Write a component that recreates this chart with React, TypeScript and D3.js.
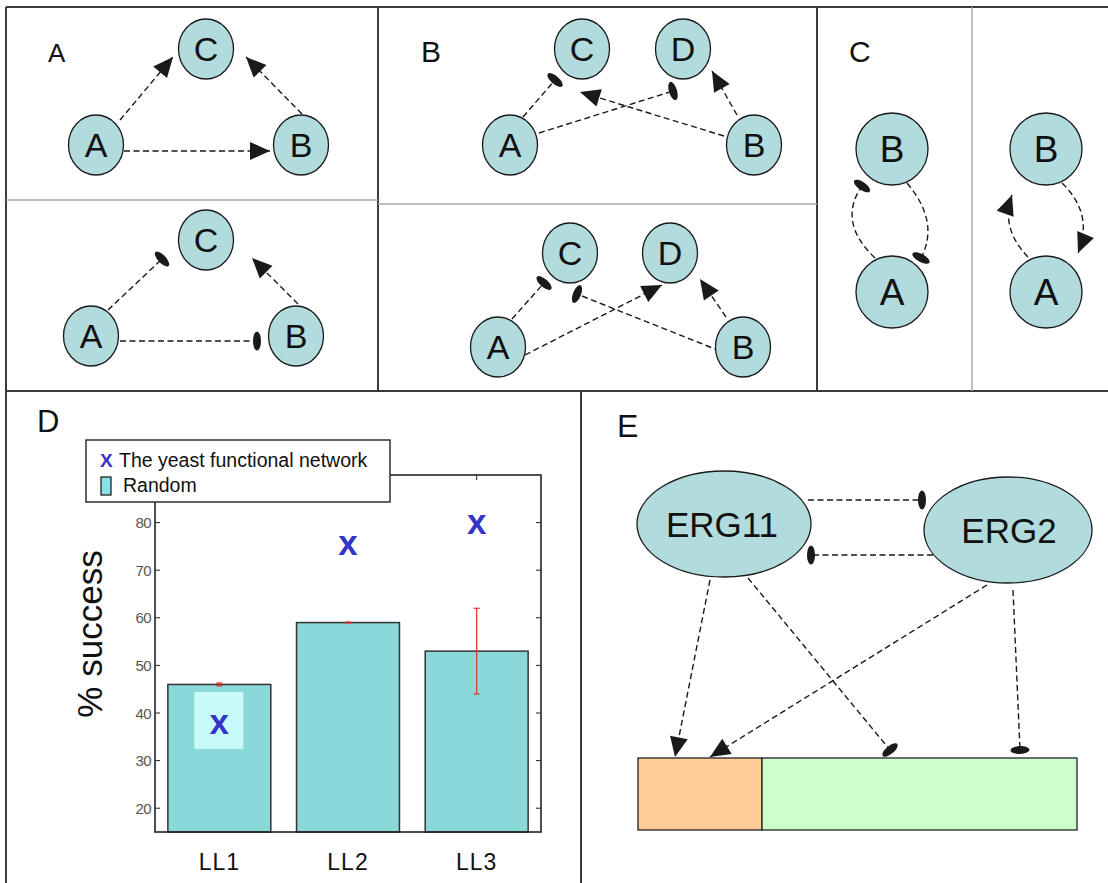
import React from 'react';
import * as d3 from 'd3';

// ---------- Panel D data ----------
const categories = ['LL1', 'LL2', 'LL3'];
const randomValues = [46, 59, 53];
const randomErrors = [0.3, 0.1, 9];
const yeastValues = [37.5, 75, 79.5];
const yTicks = [20, 30, 40, 50, 60, 70, 80];
const yDomain: [number, number] = [15, 90];
const legendLabels = ['The yeast functional network', 'Random'];

// ---------- Network data ----------
type N = { id: string; cx: number; cy: number; rx: number; ry: number };
type E = { x1: number; y1: number; x2: number; y2: number; kind: 'act' | 'rep'; cpx?: number; cpy?: number };

const aTopNodes: N[] = [
  { id: 'C', cx: 206, cy: 49, rx: 27.5, ry: 30 },
  { id: 'A', cx: 96, cy: 145, rx: 27.5, ry: 30 },
  { id: 'B', cx: 301, cy: 145, rx: 27.5, ry: 30 },
];
const aTopEdges: E[] = [
  { x1: 120, y1: 120, x2: 173, y2: 57, kind: 'act' },
  { x1: 124, y1: 151, x2: 270, y2: 151, kind: 'act' },
  { x1: 302, y1: 114, x2: 246, y2: 57, kind: 'act' },
];
const aBotNodes: N[] = [
  { id: 'C', cx: 206, cy: 240, rx: 27.5, ry: 30 },
  { id: 'A', cx: 91, cy: 336, rx: 27.5, ry: 30 },
  { id: 'B', cx: 296, cy: 336, rx: 27.5, ry: 30 },
];
const aBotEdges: E[] = [
  { x1: 108, y1: 310, x2: 162, y2: 259, kind: 'rep' },
  { x1: 120, y1: 341, x2: 257, y2: 341, kind: 'rep' },
  { x1: 298, y1: 304, x2: 252, y2: 258, kind: 'act' },
];
const bTopNodes: N[] = [
  { id: 'C', cx: 582, cy: 49, rx: 27.5, ry: 30 },
  { id: 'D', cx: 683, cy: 49, rx: 27.5, ry: 30 },
  { id: 'A', cx: 510, cy: 145, rx: 27.5, ry: 30 },
  { id: 'B', cx: 754, cy: 145, rx: 27.5, ry: 30 },
];
const bTopEdges: E[] = [
  { x1: 523, y1: 117, x2: 555, y2: 80, kind: 'rep' },
  { x1: 539, y1: 133, x2: 673, y2: 91, kind: 'rep' },
  { x1: 724, y1: 136, x2: 580, y2: 92, kind: 'act' },
  { x1: 737, y1: 115, x2: 712, y2: 71, kind: 'act' },
];
const bBotNodes: N[] = [
  { id: 'C', cx: 570, cy: 253, rx: 27.5, ry: 30 },
  { id: 'D', cx: 670, cy: 253, rx: 27.5, ry: 30 },
  { id: 'A', cx: 498, cy: 347, rx: 27.5, ry: 30 },
  { id: 'B', cx: 743, cy: 347, rx: 27.5, ry: 30 },
];
const bBotEdges: E[] = [
  { x1: 512, y1: 319, x2: 544, y2: 283, kind: 'rep' },
  { x1: 525, y1: 355, x2: 662, y2: 285, kind: 'act' },
  { x1: 720, y1: 351, x2: 577, y2: 294, kind: 'rep' },
  { x1: 726, y1: 317, x2: 700, y2: 279, kind: 'act' },
];
const cNodes: N[] = [
  { id: 'B', cx: 892, cy: 149, rx: 36, ry: 36 },
  { id: 'A', cx: 892, cy: 292, rx: 36, ry: 36 },
  { id: 'B', cx: 1046, cy: 149, rx: 36, ry: 36 },
  { id: 'A', cx: 1046, cy: 292, rx: 36, ry: 36 },
];
const cEdges: E[] = [
  { x1: 875, y1: 258, x2: 862, y2: 186, cpx: 837, cpy: 222, kind: 'rep' },
  { x1: 907, y1: 183, x2: 921, y2: 258, cpx: 940, cpy: 222, kind: 'rep' },
  { x1: 1028, y1: 257, x2: 1012, y2: 195, cpx: 1000, cpy: 228, kind: 'act' },
  { x1: 1062, y1: 183, x2: 1078, y2: 253, cpx: 1094, cpy: 214, kind: 'act' },
];
const eNodes: N[] = [
  { id: 'ERG11', cx: 724, cy: 524, rx: 87, ry: 53 },
  { id: 'ERG2', cx: 1008, cy: 530, rx: 84, ry: 53 },
];
const eEdges: E[] = [
  { x1: 808, y1: 500, x2: 922, y2: 500, kind: 'rep' },
  { x1: 933, y1: 555, x2: 811, y2: 555, kind: 'rep' },
  { x1: 710, y1: 580, x2: 675, y2: 757, kind: 'act' },
  { x1: 748, y1: 578, x2: 890, y2: 750, kind: 'rep' },
  { x1: 987, y1: 585, x2: 710, y2: 757, kind: 'act' },
  { x1: 1013, y1: 590, x2: 1020, y2: 750, kind: 'rep' },
];
const eBoxes = [
  { x0: 638, x1: 762, fill: '#ffcc99' },
  { x0: 762, x1: 1077, fill: '#ccffcc' },
];

const FONT = 'Liberation Sans, Arial, Helvetica, sans-serif';
const NODE_FILL = '#b2dbdd';
const INK = '#1a1a1a';

function endAngle(e: E) {
  const sx = e.cpx ?? e.x1;
  const sy = e.cpy ?? e.y1;
  return Math.atan2(e.y2 - sy, e.x2 - sx);
}

function Edge({ e, w = 1.4 }: { e: E; w?: number }) {
  const p = d3.path();
  p.moveTo(e.x1, e.y1);
  if (e.cpx !== undefined && e.cpy !== undefined) p.quadraticCurveTo(e.cpx, e.cpy, e.x2, e.y2);
  else p.lineTo(e.x2, e.y2);
  const a = endAngle(e);
  let head: React.ReactNode;
  if (e.kind === 'act') {
    const len = 20, hw = 9;
    const bx = e.x2 - len * Math.cos(a), by = e.y2 - len * Math.sin(a);
    const px = -Math.sin(a) * hw, py = Math.cos(a) * hw;
    head = <path d={`M${e.x2},${e.y2}L${bx + px},${by + py}L${bx - px},${by - py}Z`} fill={INK} />;
  } else {
    head = (
      <ellipse cx={0} cy={0} rx={4} ry={9.5}
        transform={`translate(${e.x2},${e.y2}) rotate(${(a * 180) / Math.PI})`} fill={INK} />
    );
  }
  return (
    <g>
      <path d={p.toString()} fill="none" stroke={INK} strokeWidth={w} strokeDasharray="6 3.5" />
      {head}
    </g>
  );
}

function Node({ n, fs }: { n: N; fs: number }) {
  return (
    <g>
      <ellipse cx={n.cx} cy={n.cy} rx={n.rx} ry={n.ry} fill={NODE_FILL} stroke={INK} strokeWidth={1.3} />
      <text x={n.cx} y={n.cy + fs * 0.36} textAnchor="middle" fontSize={fs} fontFamily={FONT} fill="#111">{n.id}</text>
    </g>
  );
}

function Net({ nodes, edges, fs }: { nodes: N[]; edges: E[]; fs: number }) {
  return (
    <g>
      {edges.map((e, i) => <Edge key={'e' + i} e={e} />)}
      {nodes.map((n, i) => <Node key={'n' + i} n={n} fs={fs} />)}
    </g>
  );
}

function BarPanel() {
  const x = d3.scaleLinear().domain([0.5, 3.5]).range([155, 541]);
  const y = d3.scaleLinear().domain(yDomain).range([832, 475]);
  const bw = x(1.4) - x(0.6);
  const top = y(yDomain[1]), bot = y(yDomain[0]);
  const blue = '#3434c6';
  return (
    <g fontFamily={FONT}>
      {/* bars */}
      {categories.map((c, i) => (
        <rect key={c} x={x(i + 1) - bw / 2} y={y(randomValues[i])} width={bw} height={bot - y(randomValues[i])}
          fill="#8ad8d8" stroke="#333" strokeWidth={1.5} />
      ))}
      {/* error bars */}
      {categories.map((c, i) => {
        const cx = x(i + 1);
        const hi = y(randomValues[i] + randomErrors[i]);
        const lo = y(randomValues[i] - randomErrors[i]);
        return (
          <g key={'err' + c} stroke="#e03030" strokeWidth={1.2}>
            <line x1={cx} x2={cx} y1={hi} y2={lo} strokeWidth={randomErrors[i] < 1 ? 2.5 : 1.2} />
            <line x1={cx - 3} x2={cx + 3} y1={hi} y2={hi} />
            <line x1={cx - 3} x2={cx + 3} y1={lo} y2={lo} />
          </g>
        );
      })}
      {/* highlight behind the LL1 marker */}
      <rect x={x(1) - 25} y={y(yeastValues[0]) - 33} width={49} height={57} fill="#c8fafa" />
      {/* yeast markers */}
      {categories.map((c, i) => (
        <text key={'m' + c} x={x(i + 1)} y={y(yeastValues[i]) + 9} textAnchor="middle" fontSize={35}
          fontWeight="bold" fill={blue}>x</text>
      ))}
      {/* axes box */}
      <rect x={x.range()[0]} y={top} width={x.range()[1] - x.range()[0]} height={bot - top} fill="none" stroke="#222" strokeWidth={1.6} />
      {yTicks.map(t => (
        <g key={'t' + t}>
          <line x1={155} x2={160} y1={y(t)} y2={y(t)} stroke="#222" strokeWidth={1} />
          <line x1={536} x2={541} y1={y(t)} y2={y(t)} stroke="#222" strokeWidth={1} />
          <text x={151} y={y(t) + 5.5} textAnchor="end" fontSize={15} fill="#555" letterSpacing={-0.6}>{t}</text>
        </g>
      ))}
      {categories.map((c, i) => (
        <g key={'xt' + c}>
          <line x1={x(i + 1)} x2={x(i + 1)} y1={top} y2={top + 5} stroke="#222" strokeWidth={1} />
          <text x={x(i + 1)} y={870} textAnchor="middle" fontSize={23} letterSpacing={1} fill="#111">{c}</text>
        </g>
      ))}
      <text transform="translate(102,634) rotate(-90)" textAnchor="middle" fontSize={35} fill="#111">% success</text>
      {/* legend */}
      <rect x={86} y={440} width={304} height={62} fill="#fff" stroke="#222" strokeWidth={1.4} />
      <text x={100} y={467} fontSize={19} fontWeight="bold" fill={blue}>X</text>
      <text x={119} y={467} fontSize={19.5} fill="#111">{legendLabels[0]}</text>
      <rect x={101} y={477} width={10} height={18} fill="#88e0ea" stroke="#222" strokeWidth={1.3} />
      <text x={123} y={492} fontSize={19.5} fill="#111">{legendLabels[1]}</text>
    </g>
  );
}

function ErgPanel() {
  return (
    <g fontFamily={FONT}>
      {eBoxes.map((b, i) => (
        <rect key={i} x={b.x0} y={758} width={b.x1 - b.x0} height={72} fill={b.fill} stroke="#222" strokeWidth={1.3} />
      ))}
      {eEdges.map((e, i) => <Edge key={i} e={e} />)}
      {eNodes.map((n, i) => (
        <g key={n.id}>
          <ellipse cx={n.cx} cy={n.cy} rx={n.rx} ry={n.ry} fill={NODE_FILL} stroke={INK} strokeWidth={1.3} />
          <text x={n.cx + (i === 0 ? -2 : 1)} y={n.cy + 13} textAnchor="middle" fontSize={35} fill="#111">{n.id}</text>
        </g>
      ))}
    </g>
  );
}

export default function App() {
  return (
    <svg width={1108} height={883} viewBox="0 0 1108 883"
      style={{ position: 'absolute', left: 0, top: 0, background: '#fff' }}>
      <rect x={0} y={0} width={1108} height={883} fill="#fff" />
      {/* frame */}
      <g stroke="#3a3a3a" strokeWidth={2} fill="none">
        <line x1={6} x2={1108} y1={7} y2={7} />
        <line x1={6} x2={6} y1={7} y2={883} />
        <line x1={378} x2={378} y1={7} y2={391} />
        <line x1={817} x2={817} y1={7} y2={391} />
        <line x1={6} x2={1108} y1={391} y2={391} />
        <line x1={581} x2={581} y1={391} y2={883} />
      </g>
      <g stroke="#a8a8a8" strokeWidth={1.5}>
        <line x1={6} x2={378} y1={200} y2={200} />
        <line x1={378} x2={817} y1={204} y2={204} />
        <line x1={972} x2={972} y1={7} y2={391} />
      </g>
      {/* panel labels */}
      <g fontFamily={FONT} fill="#111">
        <text x={48} y={62} fontSize={26}>A</text>
        <text x={421} y={62} fontSize={30}>B</text>
        <text x={849} y={62} fontSize={30}>C</text>
        <text x={37} y={432} fontSize={31}>D</text>
        <text x={617} y={437} fontSize={32}>E</text>
      </g>
      <Net nodes={aTopNodes} edges={aTopEdges} fs={34} />
      <Net nodes={aBotNodes} edges={aBotEdges} fs={34} />
      <Net nodes={bTopNodes} edges={bTopEdges} fs={34} />
      <Net nodes={bBotNodes} edges={bBotEdges} fs={34} />
      <Net nodes={cNodes} edges={cEdges} fs={37} />
      <BarPanel />
      <ErgPanel />
    </svg>
  );
}
